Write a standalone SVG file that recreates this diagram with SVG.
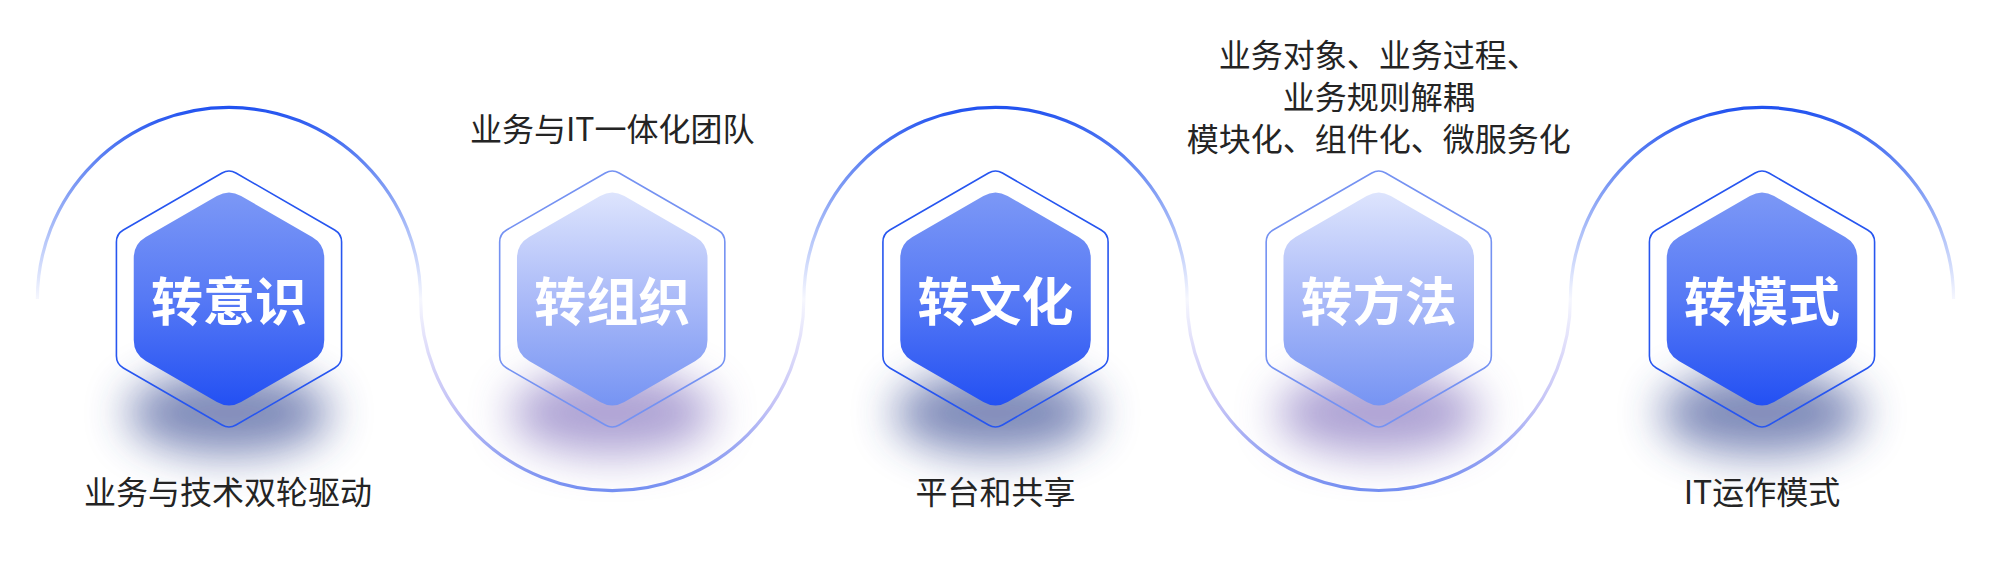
<svg xmlns="http://www.w3.org/2000/svg" width="2000" height="577" viewBox="0 0 2000 577">
  <style>
    .lbl { font-family: "Noto Sans CJK SC", "Noto Sans", sans-serif; font-size: 32px; fill: #242424; text-anchor: middle; }
    .ttl { font-family: "Noto Sans CJK SC", "Noto Sans", sans-serif; font-size: 52px; font-weight: 700; fill: #ffffff; text-anchor: middle; }
    .outer-d { fill: none; stroke: #2756f0; stroke-width: 1.6; }
    .outer-l { fill: none; stroke: #7592f2; stroke-width: 1.6; }
    .inner-d { fill: url(#gDark); }
    .inner-l { fill: url(#gLight); }
    .sh-d { fill: #33458f; opacity: 0.62; filter: url(#blur); }
    .sh-l { fill: #6550ad; opacity: 0.52; filter: url(#blur); }
  </style>
  <defs>
    <linearGradient id="gDark" x1="0" y1="0" x2="0" y2="1">
      <stop offset="0" stop-color="#7c98f6"/>
      <stop offset="0.5" stop-color="#5679f5"/>
      <stop offset="1" stop-color="#2350f3"/>
    </linearGradient>
    <linearGradient id="gLight" x1="0" y1="0" x2="0" y2="1">
      <stop offset="0" stop-color="#dde4fd"/>
      <stop offset="0.5" stop-color="#aabaf8"/>
      <stop offset="1" stop-color="#7694f3"/>
    </linearGradient>
    <linearGradient id="gArc" gradientUnits="userSpaceOnUse" x1="0" y1="107" x2="0" y2="491">
      <stop offset="0" stop-color="#2152f0"/>
      <stop offset="0.17" stop-color="#6f8ff3"/>
      <stop offset="0.36" stop-color="#bccbfa"/>
      <stop offset="0.5" stop-color="#f6f7fe"/>
      <stop offset="0.62" stop-color="#e0defa"/>
      <stop offset="0.78" stop-color="#c3c2f6"/>
      <stop offset="1" stop-color="#7590f3"/>
    </linearGradient>
    <filter id="blur" x="-60%" y="-60%" width="220%" height="220%">
      <feGaussianBlur stdDeviation="22"/>
    </filter>
    <path id="hexOuter" d="M -6.93,-126 Q 0,-130 6.93,-126 L 105.65,-69 Q 112.58,-65 112.58,-57 L 112.58,57 Q 112.58,65 105.65,69 L 6.93,126 Q 0,130 -6.93,126 L -105.65,69 Q -112.58,65 -112.58,57 L -112.58,-57 Q -112.58,-65 -105.65,-69 Z"/>
    <path id="hexInner" d="M -12.12,-103 Q 0,-110 12.12,-103 L 83.14,-62 Q 95.26,-55 95.26,-41 L 95.26,41 Q 95.26,55 83.14,62 L 12.12,103 Q 0,110 -12.12,103 L -83.14,62 Q -95.26,55 -95.26,41 L -95.26,-41 Q -95.26,-55 -83.14,-62 Z"/>
    <ellipse id="shadowShape" cx="0" cy="114" rx="102" ry="42"/>
  </defs>

  <g id="connectors">
    <path d="M 37.4 299 A 191.6 191.6 0 0 1 420.6 299 A 191.6 191.6 0 0 0 803.9 299 A 191.6 191.6 0 0 1 1187.1 299 A 191.6 191.6 0 0 0 1570.4 299 A 191.6 191.6 0 0 1 1953.6 299" fill="none" stroke="url(#gArc)" stroke-width="3.2"/>
  </g>

  <g id="node-yishi" transform="translate(229 299)">
    <use href="#shadowShape" class="sh-d"/>
    <use href="#hexOuter" class="outer-d"/>
    <use href="#hexInner" class="inner-d"/>
    <text class="ttl" x="0" y="22">转意识</text>
    <text class="lbl" x="-1" y="205">业务与技术双轮驱动</text>
  </g>

  <g id="node-zuzhi" transform="translate(612.25 299)">
    <use href="#shadowShape" class="sh-l"/>
    <use href="#hexOuter" class="outer-l"/>
    <use href="#hexInner" class="inner-l"/>
    <text class="ttl" x="0" y="22">转组织</text>
    <text class="lbl" x="0" y="-158">业务与IT一体化团队</text>
  </g>

  <g id="node-wenhua" transform="translate(995.5 299)">
    <use href="#shadowShape" class="sh-d"/>
    <use href="#hexOuter" class="outer-d"/>
    <use href="#hexInner" class="inner-d"/>
    <text class="ttl" x="0" y="22">转文化</text>
    <text class="lbl" x="0" y="205">平台和共享</text>
  </g>

  <g id="node-fangfa" transform="translate(1378.75 299)">
    <use href="#shadowShape" class="sh-l"/>
    <use href="#hexOuter" class="outer-l"/>
    <use href="#hexInner" class="inner-l"/>
    <text class="ttl" x="0" y="22">转方法</text>
    <text class="lbl" x="0" y="-232">业务对象、业务过程、</text>
    <text class="lbl" x="0" y="-190">业务规则解耦</text>
    <text class="lbl" x="0" y="-148">模块化、组件化、微服务化</text>
  </g>

  <g id="node-moshi" transform="translate(1762 299)">
    <use href="#shadowShape" class="sh-d"/>
    <use href="#hexOuter" class="outer-d"/>
    <use href="#hexInner" class="inner-d"/>
    <text class="ttl" x="0" y="22">转模式</text>
    <text class="lbl" x="0" y="205">IT运作模式</text>
  </g>
</svg>
